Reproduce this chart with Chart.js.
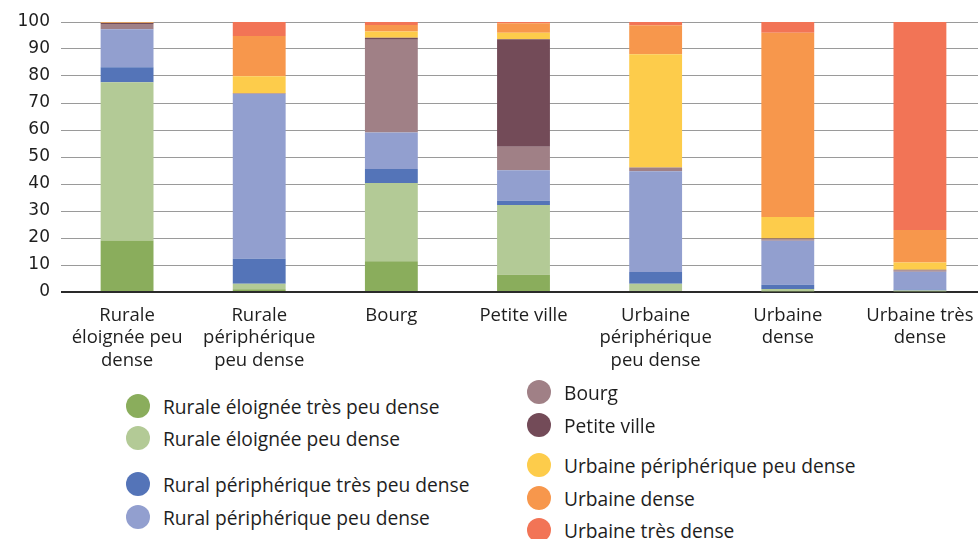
<!DOCTYPE html>
<html>
<head>
<meta charset="utf-8">
<script src="https://cdn.jsdelivr.net/npm/chart.js@4/dist/chart.umd.min.js"></script>
<style>
  html, body { margin: 0; padding: 0; background: #fff; }
  body { width: 978px; height: 539px; overflow: hidden; position: relative; font-family: "Open Sans", sans-serif; }
  #wrap { position: absolute; left: 0; top: 0; width: 986px; height: 380px; }
  .lg { position: absolute; display: flex; align-items: center; font-size: 19.2px; color: #1e1e1e; white-space: nowrap; }
  .lg .dot { width: 24px; height: 24px; border-radius: 50%; margin-right: 13px; flex: none; }
</style>
</head>
<body>
<div id="wrap"><canvas id="c"></canvas></div>
<div id="legend"></div>
<script>
const categories = [
  ["Rurale", "éloignée peu", "dense"],
  ["Rurale", "périphérique", "peu dense"],
  ["Bourg"],
  ["Petite ville"],
  ["Urbaine", "périphérique", "peu dense"],
  ["Urbaine", "dense"],
  ["Urbaine très", "dense"]
];
const seriesNames = [
  "Rurale éloignée très peu dense",
  "Rurale éloignée peu dense",
  "Rural périphérique très peu dense",
  "Rural périphérique peu dense",
  "Bourg",
  "Petite ville",
  "Urbaine périphérique peu dense",
  "Urbaine dense",
  "Urbaine très dense"
];
const seriesColors = ["#8aad5c", "#b3ca96", "#5474b8", "#929fcf", "#a08086", "#734b58", "#fdcc4b", "#f7974c", "#f27456"];

const ruraleEloigneeTresPeuDense = [19.1, 1.0, 11.4, 6.4, 0.4, 0.3, 0.3];
const ruraleEloigneePeuDense     = [58.6, 2.1, 29.0, 25.8, 2.7, 0.8, 0.3];
const ruralPeriphTresPeuDense    = [5.5, 9.2, 5.2, 1.6, 4.3, 1.6, 0.3];
const ruralPeriphPeuDense        = [14.1, 61.0, 13.5, 11.3, 37.3, 16.3, 6.6];
const bourg                      = [2.0, 0.2, 34.3, 8.7, 1.3, 0.5, 0.6];
const petiteVille                = [0.3, 0.1, 0.8, 39.8, 0.1, 0.3, 0.1];
const urbainePeriphPeuDense      = [0.1, 6.3, 2.3, 2.4, 42.0, 8.0, 2.7];
const urbaineDense               = [0.2, 14.9, 2.4, 3.5, 10.7, 68.2, 12.1];
const urbaineTresDense           = [0.1, 5.2, 1.1, 0.5, 1.2, 4.0, 77.0];

const yTicks = [0, 10, 20, 30, 40, 50, 60, 70, 80, 90, 100];

const seriesValues = [ruraleEloigneeTresPeuDense, ruraleEloigneePeuDense, ruralPeriphTresPeuDense,
  ruralPeriphPeuDense, bourg, petiteVille, urbainePeriphPeuDense, urbaineDense, urbaineTresDense];

const datasets = seriesNames.map((n, i) => ({
  label: n,
  data: seriesValues[i],
  backgroundColor: seriesColors[i],
  borderWidth: 0,
  barPercentage: 0.4,
  categoryPercentage: 1.0
}));

new Chart(document.getElementById('c'), {
  type: 'bar',
  data: { labels: categories, datasets },
  options: {
    responsive: true,
    maintainAspectRatio: false,
    animation: false,
    layout: { padding: { top: 22, right: 0, left: 0, bottom: 0 } },
    plugins: { legend: { display: false }, tooltip: { enabled: false } },
    scales: {
      x: {
        stacked: true,
        grid: { display: false },
        border: { display: false },
        ticks: {
          color: '#1e1e1e',
          font: { family: 'Open Sans', size: 18.5, lineHeight: 1.22 },
          padding: 4,
          maxRotation: 0,
          autoSkip: false
        },
        afterFit: (s) => { s.height = 88; }
      },
      y: {
        stacked: true,
        min: 0, max: 100,
        afterBuildTicks: (s) => { s.ticks = yTicks.map(v => ({ value: v })); },
        grid: {
          drawTicks: false,
          color: (ctx) => ctx.tick && ctx.tick.value === 0 ? '#2a2a2a' : '#9a9a9a',
          lineWidth: (ctx) => ctx.tick && ctx.tick.value === 0 ? 2 : 1
        },
        border: { display: false },
        ticks: {
          color: '#1e1e1e',
          font: { family: 'DejaVu Sans', size: 17 },
          padding: 11
        },
        afterFit: (s) => { s.width = 61; }
      }
    }
  }
});

// legend
const legendPos = [
  { x: 126, y: 406 }, { x: 126, y: 438 }, { x: 126, y: 484 }, { x: 126, y: 517 },
  { x: 527, y: 392 }, { x: 527, y: 425 }, { x: 527, y: 465 }, { x: 527, y: 498 }, { x: 527, y: 530 }
];
const lg = document.getElementById('legend');
seriesNames.forEach((n, i) => {
  const d = document.createElement('div');
  d.className = 'lg';
  d.style.left = legendPos[i].x + 'px';
  d.style.top = (legendPos[i].y - 12) + 'px';
  d.style.height = '24px';
  const dot = document.createElement('span');
  dot.className = 'dot';
  dot.style.background = seriesColors[i];
  const t = document.createElement('span');
  t.textContent = n;
  d.appendChild(dot); d.appendChild(t);
  lg.appendChild(d);
});
</script>
</body>
</html>
